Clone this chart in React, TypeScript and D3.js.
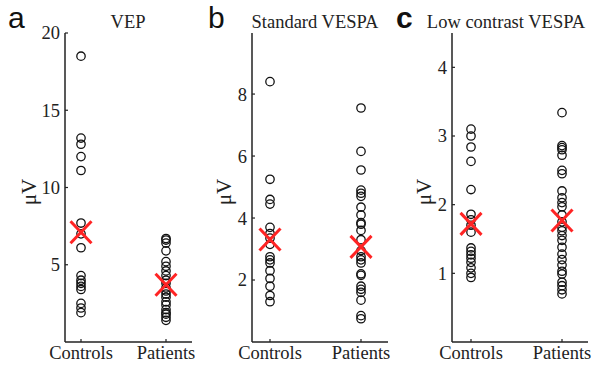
import React from "react";
import * as d3 from "d3";

const groups = ["Controls", "Patients"];

const vepControls = [18.5, 13.2, 12.8, 12.0, 11.1, 7.7, 7.0, 6.1, 4.3, 4.0, 3.8, 3.6, 3.4, 2.5, 2.2, 1.9];
const vepPatients = [6.7, 6.6, 6.4, 5.9, 5.2, 4.9, 4.6, 4.3, 4.0, 3.8, 3.5, 3.3, 3.1, 2.9, 2.6, 2.4, 2.1, 1.9, 1.8, 1.6, 1.4];
const vepMeans = [7.1, 3.7];
const vepTicks = [5, 10, 15, 20];

const stdControls = [8.4, 5.25, 4.6, 4.45, 3.7, 3.5, 3.35, 3.15, 2.75, 2.65, 2.55, 2.3, 2.05, 1.8, 1.5, 1.3];
const stdPatients = [7.55, 6.15, 5.55, 4.9, 4.8, 4.7, 4.35, 4.1, 3.85, 3.8, 3.6, 3.3, 2.95, 2.75, 2.65, 2.55, 2.2, 2.15, 1.8, 1.7, 1.6, 1.35, 0.85, 0.75];
const stdMeans = [3.31, 3.07];
const stdTicks = [2, 4, 6, 8];

const lowControls = [3.1, 3.0, 2.84, 2.63, 2.22, 1.86, 1.78, 1.7, 1.6, 1.37, 1.32, 1.27, 1.22, 1.16, 1.08, 1.0, 0.94];
const lowPatients = [3.34, 2.86, 2.83, 2.8, 2.72, 2.5, 2.45, 2.2, 2.1, 2.03, 1.97, 1.85, 1.75, 1.67, 1.62, 1.55, 1.48, 1.38, 1.28, 1.2, 1.12, 1.03, 0.99, 0.87, 0.82, 0.76, 0.7];
const lowMeans = [1.72, 1.77];
const lowTicks = [1, 2, 3, 4];

const panels = [
  { letter: "a", bold: false, title: "VEP", data: [vepControls, vepPatients], means: vepMeans, ticks: vepTicks, yMax: 20, axisX: 65, axisRight: 192, padL: 16, padR: 26, letterX: 8, titleX: 128, labelX: 36 },
  { letter: "b", bold: false, title: "Standard VESPA", data: [stdControls, stdPatients], means: stdMeans, ticks: stdTicks, yMax: 9.97, axisX: 252, axisRight: 388, padL: 18, padR: 27, letterX: 208, titleX: 315, labelX: 231 },
  { letter: "c", bold: true, title: "Low contrast VESPA", data: [lowControls, lowPatients], means: lowMeans, ticks: lowTicks, yMax: 4.5, axisX: 452, axisRight: 588, padL: 19, padR: 26, letterX: 396, titleX: 506, labelX: 431 },
];

const serif = "'Liberation Serif', 'Times New Roman', serif";
const sans = "'Liberation Sans', Arial, sans-serif";

export default function App() {
  const W = 604, H = 365;
  const yTop = 33, yBottom = 342;
  return (
    <svg width={W} height={H} style={{ position: "absolute", left: 0, top: 0, background: "#fff" }}>
      {panels.map((p, pi) => {
        const y = d3.scaleLinear().domain([0, p.yMax]).range([yBottom, yTop]);
        const x = d3.scalePoint<string>().domain(groups).range([p.axisX + p.padL, p.axisRight - p.padR]);
        return (
          <g key={pi}>
            <text x={p.letterX} y={28} fontFamily={sans} fontSize={30} fontWeight={p.bold ? "bold" : "normal"} fill="#111">{p.letter}</text>
            <text x={p.titleX} y={28} fontFamily={serif} fontSize={18.5} textAnchor="middle" fill="#222">{p.title}</text>
            <line x1={p.axisX} x2={p.axisX} y1={yTop} y2={yBottom} stroke="#222" strokeWidth={1.5} />
            <line x1={p.axisX} x2={p.axisRight} y1={yBottom} y2={yBottom} stroke="#222" strokeWidth={1.5} />
            {p.ticks.map((t) => (
              <g key={t}>
                <line x1={p.axisX} x2={p.axisX + 3} y1={y(t)} y2={y(t)} stroke="#222" strokeWidth={1.2} />
                <text x={p.axisX - 5} y={y(t)} dy="0.35em" textAnchor="end" fontFamily={serif} fontSize={18.5} fill="#222">{t}</text>
              </g>
            ))}
            {groups.map((g) => (
              <g key={g}>
                <line x1={x(g)} x2={x(g)} y1={yBottom} y2={yBottom - 3} stroke="#222" strokeWidth={1.2} />
                <text x={x(g)} y={359} textAnchor="middle" fontFamily={serif} fontSize={18.5} fill="#222">{g}</text>
              </g>
            ))}
            <text transform={`translate(${p.labelX},${192}) rotate(-90)`} textAnchor="middle" fontFamily={serif} fontSize={21} fill="#222">μV</text>
            {groups.map((g, gi) => (
              <g key={g}>
                {p.data[gi].map((v, i) => (
                  <circle key={i} cx={x(g)} cy={y(v)} r={4.2} fill="none" stroke="#111" strokeWidth={1.3} />
                ))}
              </g>
            ))}
            {groups.map((g, gi) => {
              const cx = x(g)!, cy = y(p.means[gi]);
              const dx = 10.5, dy = 11;
              return (
                <g key={"m" + g} stroke="#ff2424" strokeWidth={3}>
                  <line x1={cx - dx} y1={cy - dy} x2={cx + dx} y2={cy + dy} />
                  <line x1={cx - dx} y1={cy + dy} x2={cx + dx} y2={cy - dy} />
                </g>
              );
            })}
          </g>
        );
      })}
    </svg>
  );
}
